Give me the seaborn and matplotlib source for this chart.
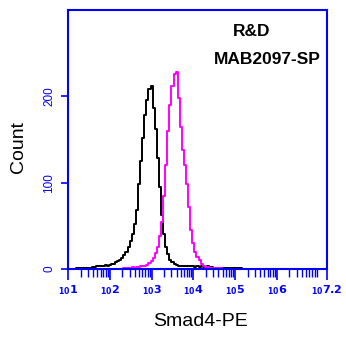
import numpy as np
import matplotlib
matplotlib.use("Agg")
import matplotlib.pyplot as plt
import seaborn as sns
from matplotlib.ticker import FixedLocator, LogLocator, NullFormatter, FixedFormatter

# ---- data ----
# histogram bin centres in log10(intensity), 0.05-decade bins
black_log = np.round(np.arange(1.20, 5.2001, 0.05), 2)
black_counts = [1, 1, 1, 1, 1, 1, 1,
                1, 2, 2, 3, 4, 3, 4, 5, 4, 5, 6, 6, 8, 9, 11, 13, 16, 20, 25,
                32, 40, 52, 68, 98, 125, 152, 178, 196, 208, 212, 186, 162, 128,
                95, 62, 40, 26, 17, 11, 8, 6, 5, 4, 4, 3, 4, 3, 4, 3, 3, 2, 3,
                2, 3, 2, 2, 3, 2, 2, 1, 1, 1, 1, 1, 1, 1, 1, 1, 1, 1, 1, 1, 1, 0]
magenta_log = np.round(np.arange(2.30, 4.7001, 0.05), 2)
magenta_counts = [0, 1, 1, 1, 1, 2, 1, 2, 2, 3, 3, 4, 5, 7, 9, 13, 18, 26, 38,
                  55, 85, 120, 160, 190, 212, 226, 228, 198, 165, 138, 120, 98,
                  72, 45, 30, 20, 14, 10, 6, 3, 2, 2, 1, 1, 1, 1, 1, 1, 0]
x_tick_exp = ["1", "2", "3", "4", "5", "6", "7.2"]
x_tick_pos = [1, 2, 3, 4, 5, 6, 7.2]
y_ticks = [0, 100, 200]
annot_lines = ["R&D", "MAB2097-SP"]

sns.set_style("white")
plt.rcParams['font.family'] = ['Liberation Sans', 'DejaVu Sans']
plt.rcParams['text.color'] = 'black'
plt.rcParams['axes.labelcolor'] = 'black'

blue = "#0000ff"
fig = plt.figure(figsize=(3.46, 3.39), dpi=100)
ax = fig.add_axes([68/346, 1-269/339, (327-68)/346, (269-10)/339])

sns.lineplot(x=10**black_log, y=black_counts, color="black", lw=1.4,
             drawstyle="steps-mid", ax=ax, legend=False)
sns.lineplot(x=10**magenta_log, y=magenta_counts, color="#ff00ff", lw=1.4,
             drawstyle="steps-mid", ax=ax, legend=False)

ax.set_xscale("log")
ax.set_xlim(10**1, 10**7.2)
ax.set_ylim(0, 300)

for s in ax.spines.values():
    s.set_color(blue)
    s.set_linewidth(1.5)

ax.xaxis.set_major_locator(FixedLocator([10**p for p in x_tick_pos]))
ax.xaxis.set_major_formatter(FixedFormatter(
    [r"$_{\mathbf{10}}\mathbf{" + e + "}$" for e in x_tick_exp]))
ax.xaxis.set_minor_locator(LogLocator(base=10, subs=np.arange(2, 10), numticks=20))
ax.xaxis.set_minor_formatter(NullFormatter())
ax.set_yticks(y_ticks)
ax.set_yticklabels([str(v) for v in y_ticks], rotation=90, va="center")

ax.tick_params(axis="x", which="major", direction="out", length=8, width=1.2,
               color=blue, labelcolor=blue, labelsize=8, pad=2, bottom=True)
ax.tick_params(axis="x", which="minor", direction="out", length=6, width=1.0,
               color=blue, bottom=True)
ax.tick_params(axis="y", which="major", direction="out", length=5, width=1.2,
               color=blue, labelcolor=blue, labelsize=8.5, pad=4, left=True)

ax.set_xlabel("Smad4-PE", fontsize=14)
ax.xaxis.set_label_coords(200/346, 1-322/339, transform=fig.transFigure)
ax.set_ylabel("Count", fontsize=14)
ax.yaxis.set_label_coords(18/346, 1-147/339, transform=fig.transFigure)
ax.xaxis.label.set_va("center")
ax.yaxis.label.set_va("center")

ax.text(252/346, 1-32/339, annot_lines[0], transform=fig.transFigure,
        ha="center", va="center", fontsize=12.5, fontweight="bold")
ax.text(267/346, 1-60/339, annot_lines[1], transform=fig.transFigure,
        ha="center", va="center", fontsize=12.5, fontweight="bold")

fig.savefig("out.png", dpi=100)
